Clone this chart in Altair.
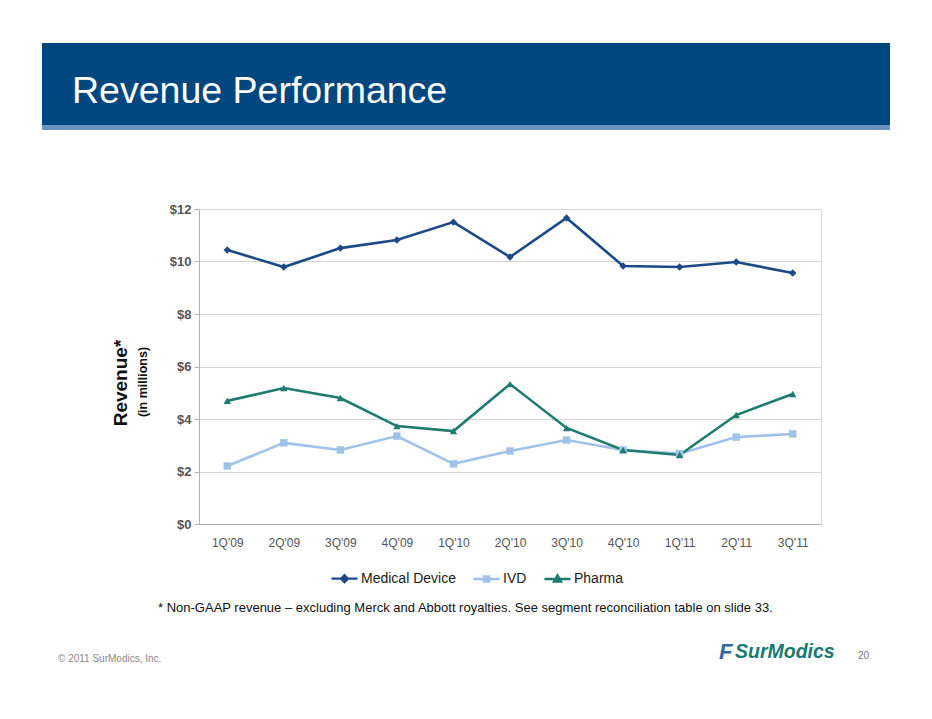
import altair as alt
import pandas as pd

quarters = ["1Q'09", "2Q'09", "3Q'09", "4Q'09", "1Q'10", "2Q'10", "3Q'10", "4Q'10", "1Q'11", "2Q'11", "3Q'11"]
medical_device = [10.44, 9.79, 10.51, 10.82, 11.50, 10.17, 11.66, 9.83, 9.79, 9.98, 9.56]
ivd = [2.21, 3.09, 2.82, 3.35, 2.29, 2.78, 3.20, 2.82, 2.68, 3.31, 3.43]
pharma = [4.69, 5.18, 4.80, 3.73, 3.54, 5.33, 3.66, 2.82, 2.63, 4.15, 4.95]
series_names = ["Medical Device", "IVD", "Pharma"]
series_colors = ["#1b4a86", "#9fc3e8", "#1e7b6e"]
series_shapes = ["diamond", "square", "triangle-up"]
# legend glyphs: a short line with the series marker on it
legend_glyphs = [
    "M-1,0L1,0M0,-0.26L0.26,0L0,0.26L-0.26,0Z",
    "M-1,0L1,0M-0.2,-0.2L0.2,-0.2L0.2,0.2L-0.2,0.2Z",
    "M-1,0L1,0M0,-0.28L0.27,0.2L-0.27,0.2Z",
]

rows = []
for name, vals in zip(series_names, [medical_device, ivd, pharma]):
    for q, v in zip(quarters, vals):
        rows.append({"Quarter": q, "Revenue": v, "Series": name})
df = pd.DataFrame(rows)

FONT = "Liberation Sans"
W, H = 622, 315
PX, PY = 199, 209  # plot origin on page

glyph_expr = "datum.value == '%s' ? '%s' : (datum.value == '%s' ? '%s' : '%s')" % (
    series_names[0], legend_glyphs[0], series_names[1], legend_glyphs[1], legend_glyphs[2])

legend = alt.Legend(title=None, orient="none", direction="horizontal",
                    legendX=131, legendY=355, labelFont=FONT, labelFontSize=14,
                    labelColor="#1a1a1a", symbolSize=676, symbolStrokeWidth=2.4,
                    columnPadding=12, labelOffset=2,
                    symbolType=alt.ExprRef(expr=glyph_expr),
                    symbolStrokeColor=alt.ExprRef(expr="scale('color', datum.value)"))

x_enc = alt.X("Quarter:N", sort=quarters, scale=alt.Scale(padding=0.5),
              axis=alt.Axis(title=None, labelAngle=0, ticks=False, domainColor="#b0b0b0",
                            labelColor="#555555", labelFont=FONT, labelFontSize=12,
                            labelPadding=13))
y_enc = alt.Y("Revenue:Q", scale=alt.Scale(domain=[0, 12]),
              axis=alt.Axis(title=None, values=[0, 2, 4, 6, 8, 10, 12], format="$,.0f",
                            gridColor="#d4d4d4", domainColor="#b0b0b0", tickColor="#b0b0b0",
                            tickSize=5, labelColor="#555555", labelFont=FONT, labelFontSize=13,
                            labelFontWeight="bold", labelPadding=3))
color_enc = alt.Color("Series:N", scale=alt.Scale(domain=series_names, range=series_colors),
                      legend=legend)

base = alt.Chart(df)
lines = base.mark_line(strokeWidth=2.6).encode(x=x_enc, y=y_enc, color=color_enc,
                                               detail="Series:N")
point_layers = [
    base.transform_filter(alt.datum.Series == name)
    .mark_point(filled=True, size=55, opacity=1, shape=shp)
    .encode(x=x_enc, y=y_enc, color=color_enc)
    for name, shp in zip(series_names, series_shapes)
]

one = pd.DataFrame({"k": [0]})
deco = alt.Chart(one)
band = deco.mark_rect(color="#00467f").encode(
    x=alt.value(42 - PX), x2=alt.value(890 - PX), y=alt.value(43 - PY), y2=alt.value(125 - PY))
stripe = deco.mark_rect(color="#6b93c2").encode(
    x=alt.value(42 - PX), x2=alt.value(890 - PX), y=alt.value(125 - PY), y2=alt.value(130 - PY))
title = deco.mark_text(text="Revenue Performance", font=FONT, fontSize=37.5, color="white",
                       align="left", baseline="alphabetic").encode(
    x=alt.value(72 - PX), y=alt.value(103 - PY))
ytitle1 = deco.mark_text(text="Revenue*", font=FONT, fontSize=19, fontWeight="bold",
                         color="#111111", angle=270, align="center", baseline="middle").encode(
    x=alt.value(121 - PX), y=alt.value(383 - PY))
ytitle2 = deco.mark_text(text="(in millions)", font=FONT, fontSize=12.5, fontWeight="bold",
                         color="#111111", angle=270, align="center", baseline="middle").encode(
    x=alt.value(143 - PX), y=alt.value(382 - PY))
foot = deco.mark_text(text="*  Non-GAAP revenue \u2013 excluding Merck and Abbott royalties. See segment reconciliation table on slide 33.",
                      font=FONT, fontSize=13, color="#111111", align="left", baseline="middle").encode(
    x=alt.value(158 - PX), y=alt.value(608 - PY))
copy = deco.mark_text(text="\u00a9 2011 SurModics, Inc.", font=FONT, fontSize=10, color="#8a8a8a",
                      align="left", baseline="middle").encode(
    x=alt.value(58 - PX), y=alt.value(659 - PY))
pagenum = deco.mark_text(text="20", font=FONT, fontSize=10, color="#777777",
                         align="left", baseline="middle").encode(
    x=alt.value(858 - PX), y=alt.value(656 - PY))
logo_mark = deco.mark_text(text="F", font=FONT, fontSize=22,
                           fontWeight="bold", fontStyle="italic", color="#2f69a6",
                           align="left", baseline="middle").encode(
    x=alt.value(719 - PX), y=alt.value(652 - PY))
logo = deco.mark_text(text="SurModics", font=FONT, fontSize=19.5,
                      fontWeight="bold", fontStyle="italic", color="#177a72",
                      align="left", baseline="middle").encode(
    x=alt.value(735 - PX), y=alt.value(652 - PY))

chart = alt.layer(band, stripe, title, ytitle1, ytitle2, foot, copy, pagenum, logo_mark, logo,
                  lines, *point_layers).properties(
    width=W, height=H,
    autosize=alt.AutoSizeParams(type="none"),
    padding={"left": PX - 8, "top": PY - 8, "right": 932 - 16 - (PX - 8) - W, "bottom": 719 - 16 - (PY - 8) - H},
).configure_view(stroke=None).configure(background="white")

chart.save("out.html", embed_options={"renderer": "svg", "actions": False})
